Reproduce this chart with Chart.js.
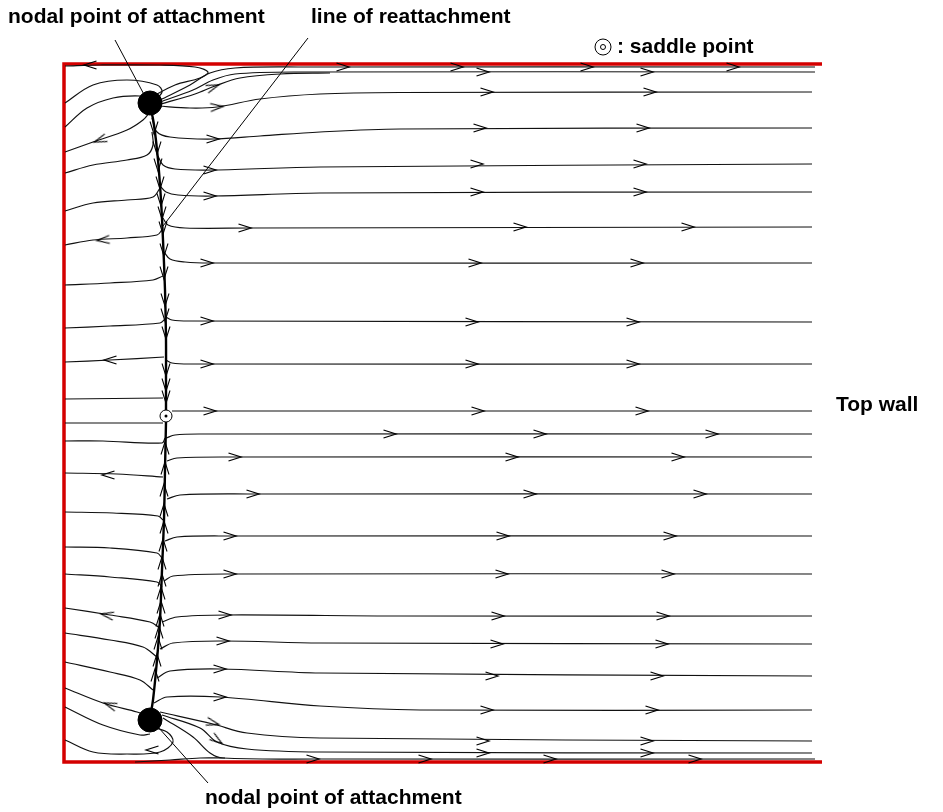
<!DOCTYPE html>
<html><head><meta charset="utf-8">
<script src="https://cdn.jsdelivr.net/npm/chart.js@4/dist/chart.umd.min.js"></script>
<style>html,body{margin:0;padding:0;background:#fff}#wrap{width:943px;height:812px;position:relative}</style>
</head><body><div id="wrap"><canvas id="c" width="943" height="812"></canvas></div>
<script>
// Units: x = distance from left wall, y = distance from upper wall (arbitrary length units)
const wallOutline = [[75.8,0],[0,0],[0,69.8],[75.8,69.8]];

const reattachUpper = [[8.6,4.0],[9.0,6.1],[9.4,9.6],[9.7,13.6],[9.9,17.6],[10.1,22.6],[10.2,27.6],[10.2,31.6],[10.2,34.6]];
const reattachLower = [[10.2,35.8],[10.1,40.6],[10.0,45.6],[9.8,50.6],[9.6,55.6],[9.3,59.6],[8.9,63.6],[8.6,65.4]];

const nodalPoints = [[8.6,3.9],[8.6,65.6]];
const saddlePoints = [[10.2,35.2]];

const topWallFlow = [
  [[8.6,3.4],[11.1,2.1],[13.6,1.4],[14.4,0.8],[13.1,0.3],[9.6,0.1],[3.6,0.1],[0.1,0.2]],
  [[9.6,3.6],[12.6,2.1],[14.6,0.9],[17.1,0.4],[23.6,0.3],[75.1,0.3]],
  [[9.6,3.8],[12.9,2.6],[14.9,1.6],[17.1,1.0],[23.6,0.8],[75.1,0.8]],
  [[9.7,4.0],[13.1,3.0],[15.1,2.2],[17.6,1.4],[21.6,1.0],[26.6,0.9]]
];

const rightStreamlines = [
  [[9.4,4.2],[12.6,4.4],[15.3,4.3],[19.6,3.5],[25.6,3.0],[33.6,2.85],[74.8,2.8]],
  [[8.8,5.4],[9.3,6.8],[10.6,7.3],[14.9,7.5],[19.6,7.2],[25.6,6.8],[33.6,6.5],[74.8,6.4]],
  [[9.4,9.2],[9.9,10.1],[11.1,10.5],[14.9,10.6],[25.6,10.3],[74.8,10.0]],
  [[9.6,12.2],[10.2,12.8],[11.4,13.1],[14.9,13.2],[25.6,12.9],[74.8,12.8]],
  [[9.9,15.4],[10.4,16.1],[12.1,16.4],[18.6,16.4],[74.8,16.3]],
  [[10.0,18.8],[10.6,19.5],[12.1,19.8],[14.6,19.9],[74.8,19.9]],
  [[10.2,25.3],[10.8,25.6],[12.6,25.7],[74.8,25.8]],
  [[10.2,29.6],[10.8,29.9],[12.6,30.0],[74.8,30.0]],
  [[10.8,34.7],[74.8,34.7]],
  [[10.2,37.4],[11.1,37.1],[13.6,37.0],[74.8,37.0]],
  [[10.3,39.7],[11.3,39.4],[16.6,39.3],[74.8,39.3]],
  [[10.3,43.5],[11.6,43.1],[18.6,43.0],[74.8,43.0]],
  [[10.1,47.7],[11.3,47.3],[16.6,47.2],[74.8,47.2]],
  [[10.0,51.7],[10.9,51.2],[16.6,51.0],[74.8,51.0]],
  [[9.8,55.8],[11.3,55.3],[16.3,55.1],[33.6,55.2],[74.8,55.2]],
  [[9.6,58.5],[10.9,57.9],[15.9,57.7],[25.6,57.9],[74.8,58.0]],
  [[9.3,61.4],[10.6,60.7],[15.6,60.5],[25.6,60.9],[74.8,61.2]],
  [[9.0,63.9],[10.3,63.3],[15.6,63.3],[25.6,64.2],[35.6,64.6],[74.8,64.6]],
  [[9.6,64.8],[14.9,66.0],[18.3,66.9],[25.6,67.4],[74.8,67.7]],
  [[9.8,65.1],[13.6,66.4],[15.3,67.8],[18.3,68.5],[25.6,68.8],[74.8,68.9]],
  [[9.9,65.4],[12.9,67.3],[14.6,68.9],[15.9,69.4],[25.6,69.5],[75.1,69.5]],
  [[7.1,69.8],[10.6,69.6],[13.6,69.4],[16.1,69.4]]
];

const leftStreamlines = [
  [[0.1,3.9],[2.9,2.1],[6.3,1.6],[9.3,2.1],[9.8,2.8],[8.9,3.8]],
  [[0.1,6.3],[2.3,4.4],[4.9,3.4],[7.6,3.2],[8.4,3.5]],
  [[0.1,8.8],[2.9,7.8],[6.3,6.6],[7.9,5.6],[8.6,4.8]],
  [[0.1,10.9],[2.9,10.1],[6.3,9.6],[8.3,9.1],[8.9,8.1],[8.8,6.8]],
  [[0.1,14.7],[2.9,13.9],[6.3,13.6],[8.9,13.3],[9.6,12.4]],
  [[0.1,18.1],[2.9,17.6],[6.3,17.4],[9.3,17.1],[9.8,16.6]],
  [[0.1,22.1],[4.6,21.9],[8.9,21.6],[9.9,21.2]],
  [[0.1,26.4],[4.6,26.2],[9.6,25.9],[10.1,25.5]],
  [[0.1,29.8],[4.6,29.6],[10.0,29.3]],
  [[0.1,33.5],[9.9,33.4]],
  [[0.1,35.9],[9.9,35.9]],
  [[0.1,37.7],[3.9,37.7],[9.8,37.9],[10.1,37.4]],
  [[0.1,40.9],[5.3,41.0],[9.9,41.3]],
  [[0.1,44.8],[4.9,44.9],[9.4,45.2],[9.9,45.6]],
  [[0.1,48.3],[4.6,48.4],[9.3,48.9],[9.8,49.4]],
  [[0.1,51.0],[4.6,51.3],[9.3,51.8],[9.8,52.3]],
  [[0.1,54.4],[4.6,55.1],[8.6,55.8],[9.6,56.4]],
  [[0.1,56.9],[4.6,57.6],[7.9,58.3],[9.3,59.3]],
  [[0.1,59.8],[4.6,60.8],[7.6,61.6],[8.9,62.6]],
  [[0.1,62.4],[3.9,63.9],[7.3,64.8],[7.9,65.0]],
  [[0.1,64.3],[3.9,66.1],[7.6,67.1],[8.6,67.0]],
  [[8.6,66.3],[10.3,66.8],[10.9,67.8],[9.6,68.8],[6.3,69.0],[2.9,68.8],[0.1,67.6]]
];

// arrows: [x, y, direction in degrees]
const flowArrows = [
  [27.9,0.3,0],[39.3,0.3,0],[52.3,0.3,0],[66.9,0.3,0],
  [41.9,0.8,0],[58.3,0.8,0],[14.9,2.3,-20],
  [15.3,4.3,-5],[42.3,2.8,0],[58.6,2.8,0],
  [14.9,7.5,0],[41.6,6.4,0],[57.9,6.4,0],
  [14.6,10.6,0],[41.3,10.0,0],[57.6,10.0,0],
  [14.6,13.2,0],[41.3,12.8,0],[57.6,12.8,0],
  [18.1,16.4,0],[45.6,16.3,0],[62.4,16.3,0],
  [14.3,19.9,0],[41.1,19.9,0],[57.3,19.9,0],
  [14.3,25.7,0],[40.8,25.8,0],[56.9,25.8,0],
  [14.3,30.0,0],[40.8,30.0,0],[56.9,30.0,0],
  [14.6,34.7,0],[41.4,34.7,0],[57.8,34.7,0],
  [32.6,37.0,0],[47.6,37.0,0],[64.8,37.0,0],
  [17.1,39.3,0],[44.8,39.3,0],[61.4,39.3,0],
  [18.9,43.0,0],[46.6,43.0,0],[63.6,43.0,0],
  [16.6,47.2,0],[43.9,47.2,0],[60.6,47.2,0],
  [16.6,51.0,0],[43.8,51.0,0],[60.4,51.0,0],
  [16.1,55.1,0],[43.4,55.2,0],[59.9,55.2,0],
  [15.9,57.7,0],[43.3,58.0,0],[59.8,58.0,0],
  [15.6,60.5,0],[42.8,61.2,0],[59.3,61.2,0],
  [15.6,63.3,0],[42.3,64.6,0],[58.8,64.6,0],
  [14.9,65.9,15],[41.9,67.7,0],[58.3,67.7,0],
  [15.3,67.6,35],[41.9,68.9,0],[58.3,68.9,0],
  [24.9,69.5,0],[36.1,69.5,0],[48.6,69.5,0],[63.1,69.5,0],
  [2.6,0.1,180],[3.6,7.6,160],[3.9,17.6,175],[4.6,29.6,180],
  [4.4,41.1,180],[4.3,55.1,190],[4.6,64.1,200],[8.8,68.6,180]
];

const reattachArrows = [
  [9.0,6.4,90],[9.3,8.4,90],[9.4,10.1,90],[9.6,11.9,90],[9.7,13.6,90],[9.8,14.9,90],[9.9,16.4,90],[10.0,18.6,90],
  [10.0,20.9,90],[10.1,23.6,90],[10.1,25.1,90],[10.2,26.9,90],[10.2,30.6,90],[10.2,32.1,90],[10.2,33.3,90],
  [10.1,38.4,-90],[10.1,40.4,-90],[10.0,42.6,-90],[10.0,44.6,-90],[10.0,46.3,-90],[9.9,48.1,-90],[9.8,49.9,-90],
  [9.8,51.6,-90],[9.7,52.9,-90],[9.7,54.3,-90],[9.6,55.6,-90],[9.5,56.8,-90],[9.4,57.9,-90],[9.3,59.6,-90],[9.1,61.1,-90]
];

const pointerLines = [
  [[5.1,-2.4],[8.4,3.8]],
  [[24.4,-2.6],[9.9,16.2]],
  [[8.6,65.4],[14.4,71.9]]
];

const labels = [
  {text:'nodal point of attachment', px:8, py:17},
  {text:'line of reattachment', px:311, py:17},
  {text:': saddle point', px:617, py:47},
  {text:'Top wall', px:836, py:405},
  {text:'nodal point of attachment', px:205, py:798}
];

// chevron arrow point style
function makeArrow(){
  const c = document.createElement('canvas');
  c.width = 16; c.height = 12;
  const g = c.getContext('2d');
  g.strokeStyle = '#000'; g.lineWidth = 1.3;
  g.beginPath(); g.moveTo(1.5,2); g.lineTo(14,6); g.lineTo(1.5,10); g.stroke();
  return c;
}
const arrowImg = makeArrow();

const toXY = a => a.map(p => ({x:p[0], y:p[1]}));
const datasets = [];

datasets.push({data: toXY(nodalPoints), showLine:false, pointRadius:12, pointBackgroundColor:'#000', pointBorderColor:'#000', order:0, clip:false});
datasets.push({data: toXY(saddlePoints), showLine:false, pointRadius:6, pointBackgroundColor:'#fff', pointBorderColor:'#000', pointBorderWidth:1, order:0, clip:false});
datasets.push({data: toXY(saddlePoints), showLine:false, pointRadius:1.5, pointBackgroundColor:'#000', pointBorderColor:'#000', pointBorderWidth:0, order:-1, clip:false});

datasets.push({data: flowArrows.map(a=>({x:a[0],y:a[1]})), showLine:false, pointStyle: arrowImg,
  rotation: flowArrows.map(a=>a[2]), order:1, clip:false});
datasets.push({data: reattachArrows.map(a=>({x:a[0],y:a[1]})), showLine:false, pointStyle: arrowImg,
  rotation: reattachArrows.map(a=>a[2]), order:1, clip:false});

const lineDs = (arr, w, col, ord, ten) => ({data: toXY(arr), showLine:true, pointRadius:0, borderColor:col, borderWidth:w, tension: ten, order:ord, clip:false, fill:false});

datasets.push(lineDs(reattachUpper, 2.4, '#000', 2, 0.3));
datasets.push(lineDs(reattachLower, 2.4, '#000', 2, 0.3));
topWallFlow.forEach(l => datasets.push(lineDs(l, 1.2, '#111', 3, 0.35)));
rightStreamlines.forEach(l => datasets.push(lineDs(l, 1.2, '#111', 3, 0.35)));
leftStreamlines.forEach(l => datasets.push(lineDs(l, 1.2, '#111', 3, 0.35)));
pointerLines.forEach(l => datasets.push(lineDs(l, 1, '#000', 3, 0)));
datasets.push({data: toXY(wallOutline), showLine:true, pointRadius:0, borderColor:'#d40000', borderWidth:3.5, tension:0, order:4, clip:false, borderJoinStyle:'miter'});

const textPlugin = {
  id:'texts',
  afterDraw(chart){
    const ctx = chart.ctx;
    ctx.save();
    ctx.fillStyle = '#000';
    ctx.font = 'bold 21px "Liberation Sans", Arial, sans-serif';
    ctx.textBaseline = 'middle';
    labels.forEach(l => ctx.fillText(l.text, l.px, l.py));
    ctx.strokeStyle = '#000'; ctx.lineWidth = 1;
    ctx.beginPath(); ctx.arc(603, 47, 8, 0, Math.PI*2); ctx.stroke();
    ctx.beginPath(); ctx.arc(603, 47, 2.5, 0, Math.PI*2); ctx.stroke();
    ctx.restore();
  }
};

new Chart(document.getElementById('c'), {
  type:'scatter',
  data:{datasets},
  options:{
    responsive:false, animation:false,
    layout:{padding:{left:64, top:64, right:121, bottom:50}},
    plugins:{legend:{display:false}, tooltip:{enabled:false}},
    scales:{
      x:{type:'linear', min:0, max:75.8, display:false},
      y:{type:'linear', min:0, max:69.8, reverse:true, display:false}
    }
  },
  plugins:[textPlugin]
});
</script>
</body></html>
